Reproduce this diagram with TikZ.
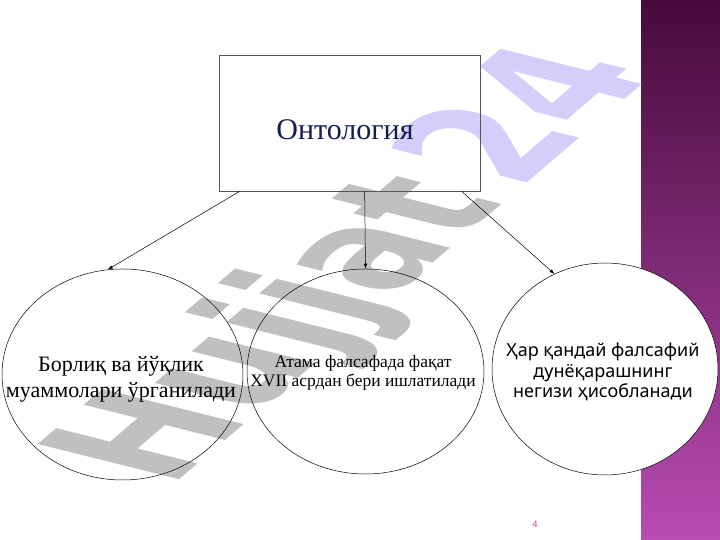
\documentclass[tikz,border=0pt]{standalone}
\usepackage{fontspec}
\setmainfont{Liberation Serif}
\newfontfamily\notosans{Noto Sans}
\newfontfamily\wmfont{DejaVu Sans}
\usepackage{tikz}
\usetikzlibrary{positioning}
\usetikzlibrary{shapes.geometric}
\usetikzlibrary{arrows.meta}
\usepackage{xcolor}
\definecolor{titleblue}{RGB}{20,28,84}
\definecolor{boxgrey}{RGB}{85,85,85}
\definecolor{wmgrey}{RGB}{192,192,192}
\definecolor{wmlilac}{RGB}{214,206,250}
\definecolor{bartop}{RGB}{70,10,58}
\definecolor{barbottom}{RGB}{184,76,178}
\definecolor{pagepink}{RGB}{200,72,130}
\tikzset{
  blob/.style={draw=black, ellipse, inner sep=0pt, line width=0.5pt},
  blobtext/.style={align=center, inner sep=0pt},
  link/.style={black, line width=0.5pt, -{Latex[length=5pt,width=3.5pt]}}
}

\begin{document}
\begin{tikzpicture}[x=1pt, y=1pt]
			    		\useasboundingbox (0,0) rectangle (720,540);
			    		\shade[top color=bartop, bottom color=barbottom] (641,0) rectangle (720,540);
			    		\node[cm={9.88,8.44,-19.41,4.84,(169,51.3)}, transform shape, anchor=base west, inner sep=0pt, font=\wmfont\bfseries\fontsize{10}{12}\selectfont] (mark) at (0,0) {\textcolor{wmgrey}{Hujjat}\kern1.4pt\textcolor{wmlilac}{24}};
			    		\node[draw=boxgrey, line width=0.7pt, minimum width=261, minimum height=136, inner sep=0pt] (onto) at (349.5,417) {};
			    		\node[text=titleblue, font=\fontsize{30}{34}\selectfont] (ontotitle) at (345,410) {Онтология};
			    		\node[blob, minimum width=241, minimum height=211] (borliq) at (122.5,165.5) {};
			    		\node[blob, minimum width=237, minimum height=205] (atama) at (365.5,168.5) {};
			    		\node[blob, fill=white, minimum width=226, minimum height=212] (negiz) at (605,171) {};
			    		\node[blobtext, font=\fontsize{22}{26}\selectfont] (borliqtext) at (121,161) {Борлиқ ва йўқлик\\муаммолари ўрганилади};
			    		\node[blobtext, font=\fontsize{17.5}{19.5}\selectfont] (atamatext) at (363,167) {Атама фалсафада фақат\\XVII асрдан бери ишлатилади};
			    		\node[blobtext, font=\notosans\fontsize{18}{20.5}\selectfont] (negiztext) at (603,168) {Ҳар қандай фалсафий\\дунёқарашнинг\\негизи ҳисобланади};
			    		\draw[link] ([xshift=21pt]onto.south west) -- (borliq.98.5);
			    		\draw[link] ([xshift=146pt]onto.south west) -- (atama.north);
			    		\draw[link] ([xshift=243pt]onto.south west) -- (negiz.118.7);
			    		\node[text=pagepink, font=\notosans\fontsize{9}{10}\selectfont] (pagenum) at (535,16) {4};
			    	\end{tikzpicture}
\end{document}
